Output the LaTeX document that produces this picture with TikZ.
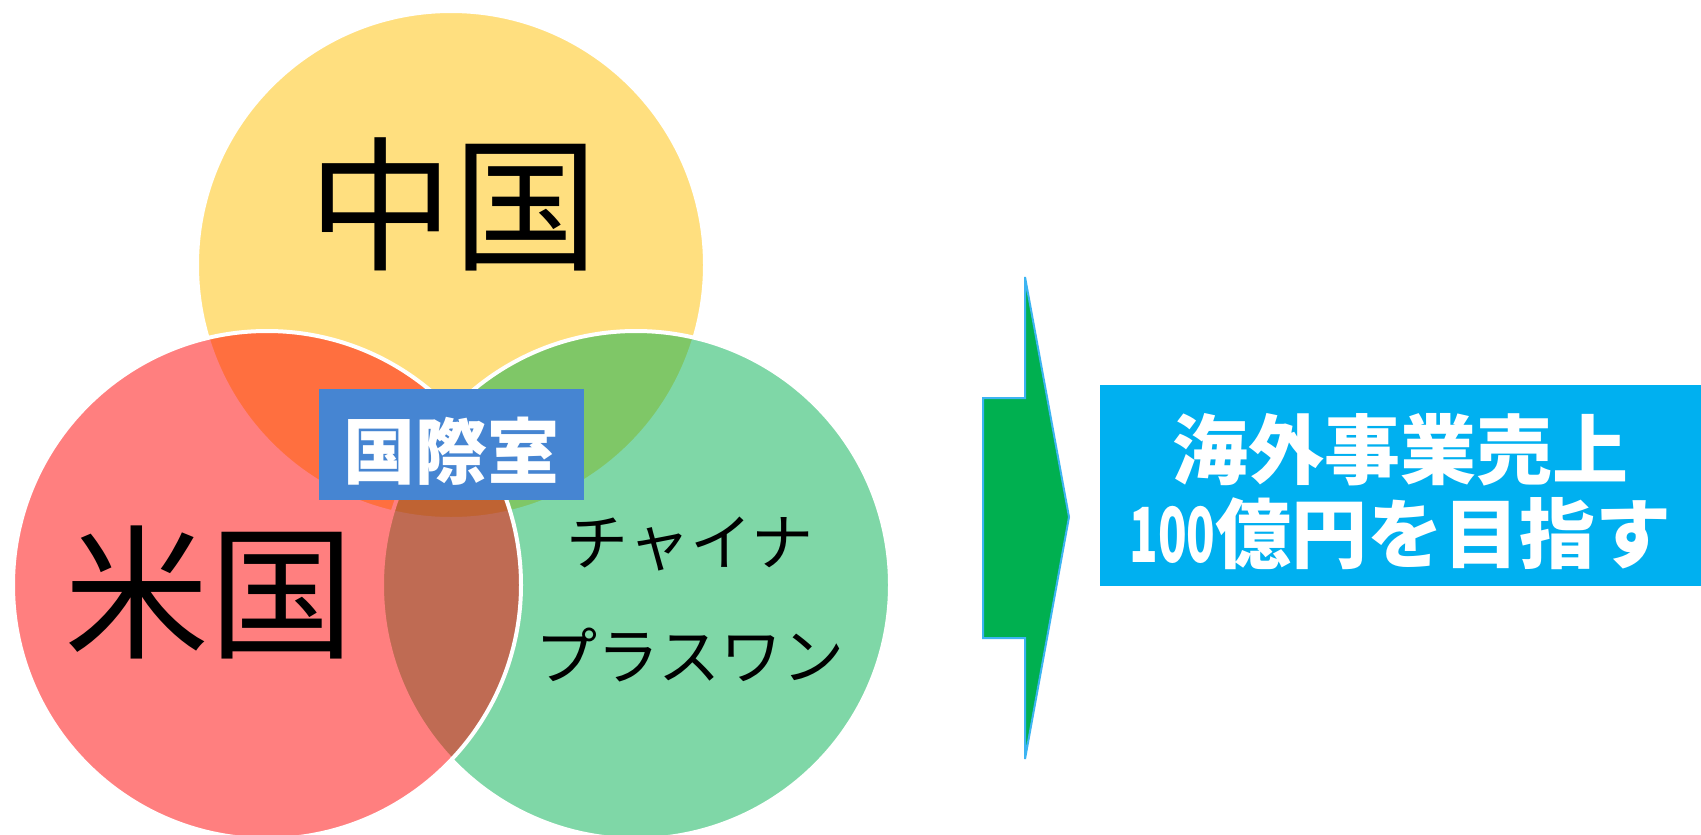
\documentclass[tikz,border=0pt]{standalone}
\usepackage{fontspec}
\newfontfamily\jp{Noto Sans CJK JP}
\newfontfamily\jpb{Noto Sans CJK JP Black}
\usetikzlibrary{positioning}
\definecolor{kiiro}{HTML}{FFC000}
\definecolor{midori}{HTML}{00B050}
\definecolor{aka}{HTML}{FF0000}
\definecolor{aoi}{HTML}{4685D2}
\definecolor{sora}{HTML}{00B0F0}
\definecolor{fuchi}{HTML}{3CB4F2}
\tikzset{
  venn/.style={draw=white,line width=4pt,fill opacity=0.5},
  bigname/.style={text=black,font=\jp\fontsize{145}{145}\selectfont},
  plate/.style={inner sep=0pt},
  platetext/.style={inner sep=0pt,text=white,align=center}
}
\begin{document}
\begin{tikzpicture}[x=1pt,y=-1pt]
\useasboundingbox (0,0) rectangle (1701,835);
\fill [white] (0,0) rectangle (1701,835);
\draw [venn,fill=kiiro] (451,265) circle [radius=254pt];
\draw [venn,fill=midori] (636,585) circle [radius=254pt];
\draw [venn,fill=aka] (267,585) circle [radius=254pt];
\node (china) [bigname] at (453,204) {中国};
\node (usa) [bigname] at (209,592) {米国};
\node (chinaplus) [align=center,font=\jp\fontsize{62}{114}\selectfont] at (690,599) {チャイナ\\プラスワン};
\node (kokusai) [plate,fill=aoi,minimum width=265pt,minimum height=111pt] at (451.5,444.5) {};
\node (kokusaitext) [platetext,font=\jpb\fontsize{72}{72}\selectfont]
  at ([yshift=-7pt]kokusai.center) {国際室};
\draw [fill=midori,draw=fuchi,line width=2pt] (1025,277) -- (1069,517) -- (1025,759)
  -- (1025,638) -- (983,638) -- (983,398) -- (1025,398) -- cycle;
\node (goal) [plate,fill=sora,minimum width=601pt,minimum height=201pt] at (1400.5,485.5) {};
\node (goaltext) [platetext,font=\jpb\fontsize{76}{84}\selectfont]
  at ([yshift=-6pt]goal.center) {海外事業売上\\\scalebox{0.62}[1]{100}億円を目指す};
\end{tikzpicture}
\end{document}
